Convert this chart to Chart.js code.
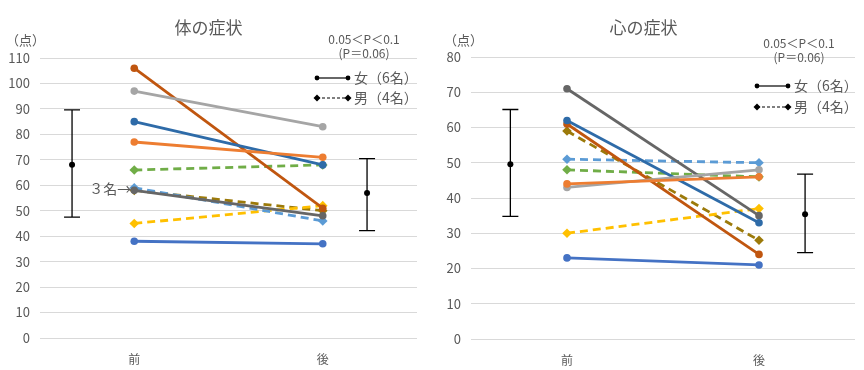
<!DOCTYPE html>
<html>
<head>
<meta charset="utf-8">
<script src="https://cdn.jsdelivr.net/npm/chart.js@4"></script>
<style>
  body { margin: 0; background: #fff; }
  .panel { position: absolute; top: 0; width: 432px; height: 370px; }
  #leftPanel { left: 0; }
  #rightPanel { left: 432px; }
</style>
</head>
<body>
<div class="panel" id="leftPanel"><canvas id="bodyChart"></canvas></div>
<div class="panel" id="rightPanel"><canvas id="mindChart"></canvas></div>
<script>
// categories (x = 1, 2)
const categories = ['前', '後'];

// one entry per person; women solid, men dashed
const personColors = ['#4472C4', '#ED7D31', '#A5A5A5', '#2E6BA8', '#C0560F', '#666666',
                      '#70AD47', '#5B9BD5', '#FFC000', '#9C7A0A'];
const personSex = ['F', 'F', 'F', 'F', 'F', 'F', 'M', 'M', 'M', 'M'];

// 体の症状 (pre, post)
const bodyPre  = [38, 77, 97, 85, 106, 58, 66, 59, 45, 58];
const bodyPost = [37, 71, 83, 68, 51, 48, 68, 46, 52, 50];
const bodyTicks = { max: 110, step: 10 };
// mean +- SD bars: x position, mean, upper, lower
const bodyErrX    = [0.67, 2.235];
const bodyErrMean = [68.1, 57.0];
const bodyErrHi   = [89.6, 70.5];
const bodyErrLo   = [47.5, 42.2];

// 心の症状 (pre, post)
const mindPre  = [23, 44, 43, 62, 61, 71, 48, 51, 30, 59];
const mindPost = [21, 46, 48, 33, 24, 35, 46, 50, 37, 28];
const mindTicks = { max: 80, step: 10 };
const mindErrX    = [0.705, 2.24];
const mindErrMean = [49.6, 35.4];
const mindErrHi   = [65.1, 46.8];
const mindErrLo   = [34.8, 24.5];

const FONT = '"Noto Sans CJK JP", "Noto Sans", sans-serif';
const TEXT = '#595959';

function buildDatasets(pre, post) {
    return pre.map(function(v, i) {
        const male = personSex[i] === 'M';
        return {
            data: [{ x: 1, y: v }, { x: 2, y: post[i] }],
            borderColor: personColors[i],
            backgroundColor: personColors[i],
            borderWidth: 2.8,
            borderDash: male ? [8, 5] : [],
            pointStyle: male ? 'rectRot' : 'circle',
            pointRadius: male ? 4.8 : 3.8,
            pointBorderWidth: 0,
            tension: 0
        };
    });
}

// draws mean +- SD whiskers through the chart scales
const errorBarPlugin = {
    id: 'errorBars',
    afterDatasetsDraw(chart, args, opts) {
        const ctx = chart.ctx;
        const xs = chart.scales.x, ys = chart.scales.y;
        ctx.save();
        ctx.strokeStyle = '#000';
        ctx.fillStyle = '#000';
        ctx.lineWidth = 1.3;
        opts.x.forEach(function(xv, i) {
            const px = xs.getPixelForValue(xv);
            const top = ys.getPixelForValue(opts.hi[i]);
            const bot = ys.getPixelForValue(opts.lo[i]);
            const mid = ys.getPixelForValue(opts.mean[i]);
            ctx.beginPath();
            ctx.moveTo(px, top); ctx.lineTo(px, bot);
            ctx.moveTo(px - 8, top); ctx.lineTo(px + 8, top);
            ctx.moveTo(px - 8, bot); ctx.lineTo(px + 8, bot);
            ctx.stroke();
            ctx.beginPath();
            ctx.arc(px, mid, 3, 0, Math.PI * 2);
            ctx.fill();
        });
        ctx.restore();
    }
};

// annotation texts and the small legend
const notesPlugin = {
    id: 'notes',
    afterDraw(chart, args, opts) {
        const ctx = chart.ctx;
        ctx.save();
        ctx.fillStyle = TEXT;
        ctx.textBaseline = 'middle';
        ctx.font = '13px ' + FONT;
        ctx.textAlign = 'left';
        ctx.fillText('（点）', opts.unitX, 40);

        ctx.font = '12px ' + FONT;
        ctx.textAlign = 'center';
        ctx.fillText('0.05＜P＜0.1', opts.pX, opts.pY);
        ctx.fillText('(P＝0.06)', opts.pX, opts.pY + 14);

        // legend samples
        const lx0 = opts.legX, lx1 = opts.legX + 31;
        ctx.strokeStyle = '#000';
        ctx.fillStyle = '#000';
        ctx.lineWidth = 1.2;
        let y = opts.legY;
        ctx.beginPath(); ctx.moveTo(lx0, y); ctx.lineTo(lx1, y); ctx.stroke();
        [lx0, lx1].forEach(function(px) {
            ctx.beginPath(); ctx.arc(px, y, 2.4, 0, Math.PI * 2); ctx.fill();
        });
        y = opts.legY + opts.legGap;
        ctx.setLineDash([3, 2]);
        ctx.beginPath(); ctx.moveTo(lx0, y); ctx.lineTo(lx1, y); ctx.stroke();
        ctx.setLineDash([]);
        [lx0, lx1].forEach(function(px) {
            ctx.beginPath();
            ctx.moveTo(px, y - 3.5); ctx.lineTo(px + 3.5, y);
            ctx.lineTo(px, y + 3.5); ctx.lineTo(px - 3.5, y);
            ctx.closePath(); ctx.fill();
        });
        ctx.fillStyle = TEXT;
        ctx.font = '14px ' + FONT;
        ctx.textAlign = 'left';
        ctx.fillText('女（6名）', lx1 + 6, opts.legY);
        ctx.fillText('男（4名）', lx1 + 6, opts.legY + opts.legGap);

        if (opts.note) {
            ctx.font = '14px ' + FONT;
            ctx.textAlign = 'right';
            ctx.fillText(opts.note, chart.scales.x.getPixelForValue(1) - 3,
                         chart.scales.y.getPixelForValue(opts.noteY));
        }
        ctx.restore();
    }
};

function makeChart(canvasId, title, pre, post, ticks, err, notes, pad) {
    const ctx = document.getElementById(canvasId);
    return new Chart(ctx.getContext('2d'), {
        type: 'line',
        data: { datasets: buildDatasets(pre, post) },
        options: {
            responsive: true,
            maintainAspectRatio: false,
            animation: false,
            layout: { padding: { left: 0, right: pad.right, top: 0, bottom: 0 } },
            plugins: {
                legend: { display: false },
                tooltip: { enabled: false },
                title: {
                    display: true,
                    text: title,
                    color: TEXT,
                    font: { family: FONT, size: 17, weight: 'normal', lineHeight: 1.2 },
                    padding: { top: 17, bottom: pad.top - 17 - 20.4 }
                },
                errorBars: err,
                notes: notes
            },
            scales: {
                x: {
                    type: 'linear',
                    min: 0.5,
                    max: 2.5,
                    afterBuildTicks: function(scale) {
                        scale.ticks = [{ value: 1 }, { value: 2 }];
                    },
                    afterFit: function(scale) { scale.height = pad.bottom; },
                    ticks: {
                        padding: 6,
                        color: TEXT,
                        font: { family: FONT, size: 12 },
                        callback: function(value) { return categories[value - 1]; }
                    },
                    grid: { display: false },
                    border: { display: false }
                },
                y: {
                    min: 0,
                    max: ticks.max,
                    afterFit: function(scale) { scale.width = pad.left; },
                    ticks: {
                        stepSize: ticks.step,
                        padding: 10,
                        color: TEXT,
                        font: { family: FONT, size: 13 }
                    },
                    grid: { color: '#D9D9D9', lineWidth: 1, drawTicks: false },
                    border: { display: false }
                }
            }
        },
        plugins: [errorBarPlugin, notesPlugin]
    });
}

makeChart('bodyChart', '体の症状', bodyPre, bodyPost, bodyTicks,
    { x: bodyErrX, mean: bodyErrMean, hi: bodyErrHi, lo: bodyErrLo },
    { unitX: 6, pX: 364, pY: 39, legX: 317, legY: 78, legGap: 20, note: '３名→', noteY: 58.5 },
    { left: 40, right: 15, top: 58, bottom: 32 });

makeChart('mindChart', '心の症状', mindPre, mindPost, mindTicks,
    { x: mindErrX, mean: mindErrMean, hi: mindErrHi, lo: mindErrLo },
    { unitX: 12, pX: 367, pY: 43, legX: 325, legY: 86, legGap: 21, note: null },
    { left: 39, right: 9, top: 57, bottom: 31 });
</script>
</body>
</html>
